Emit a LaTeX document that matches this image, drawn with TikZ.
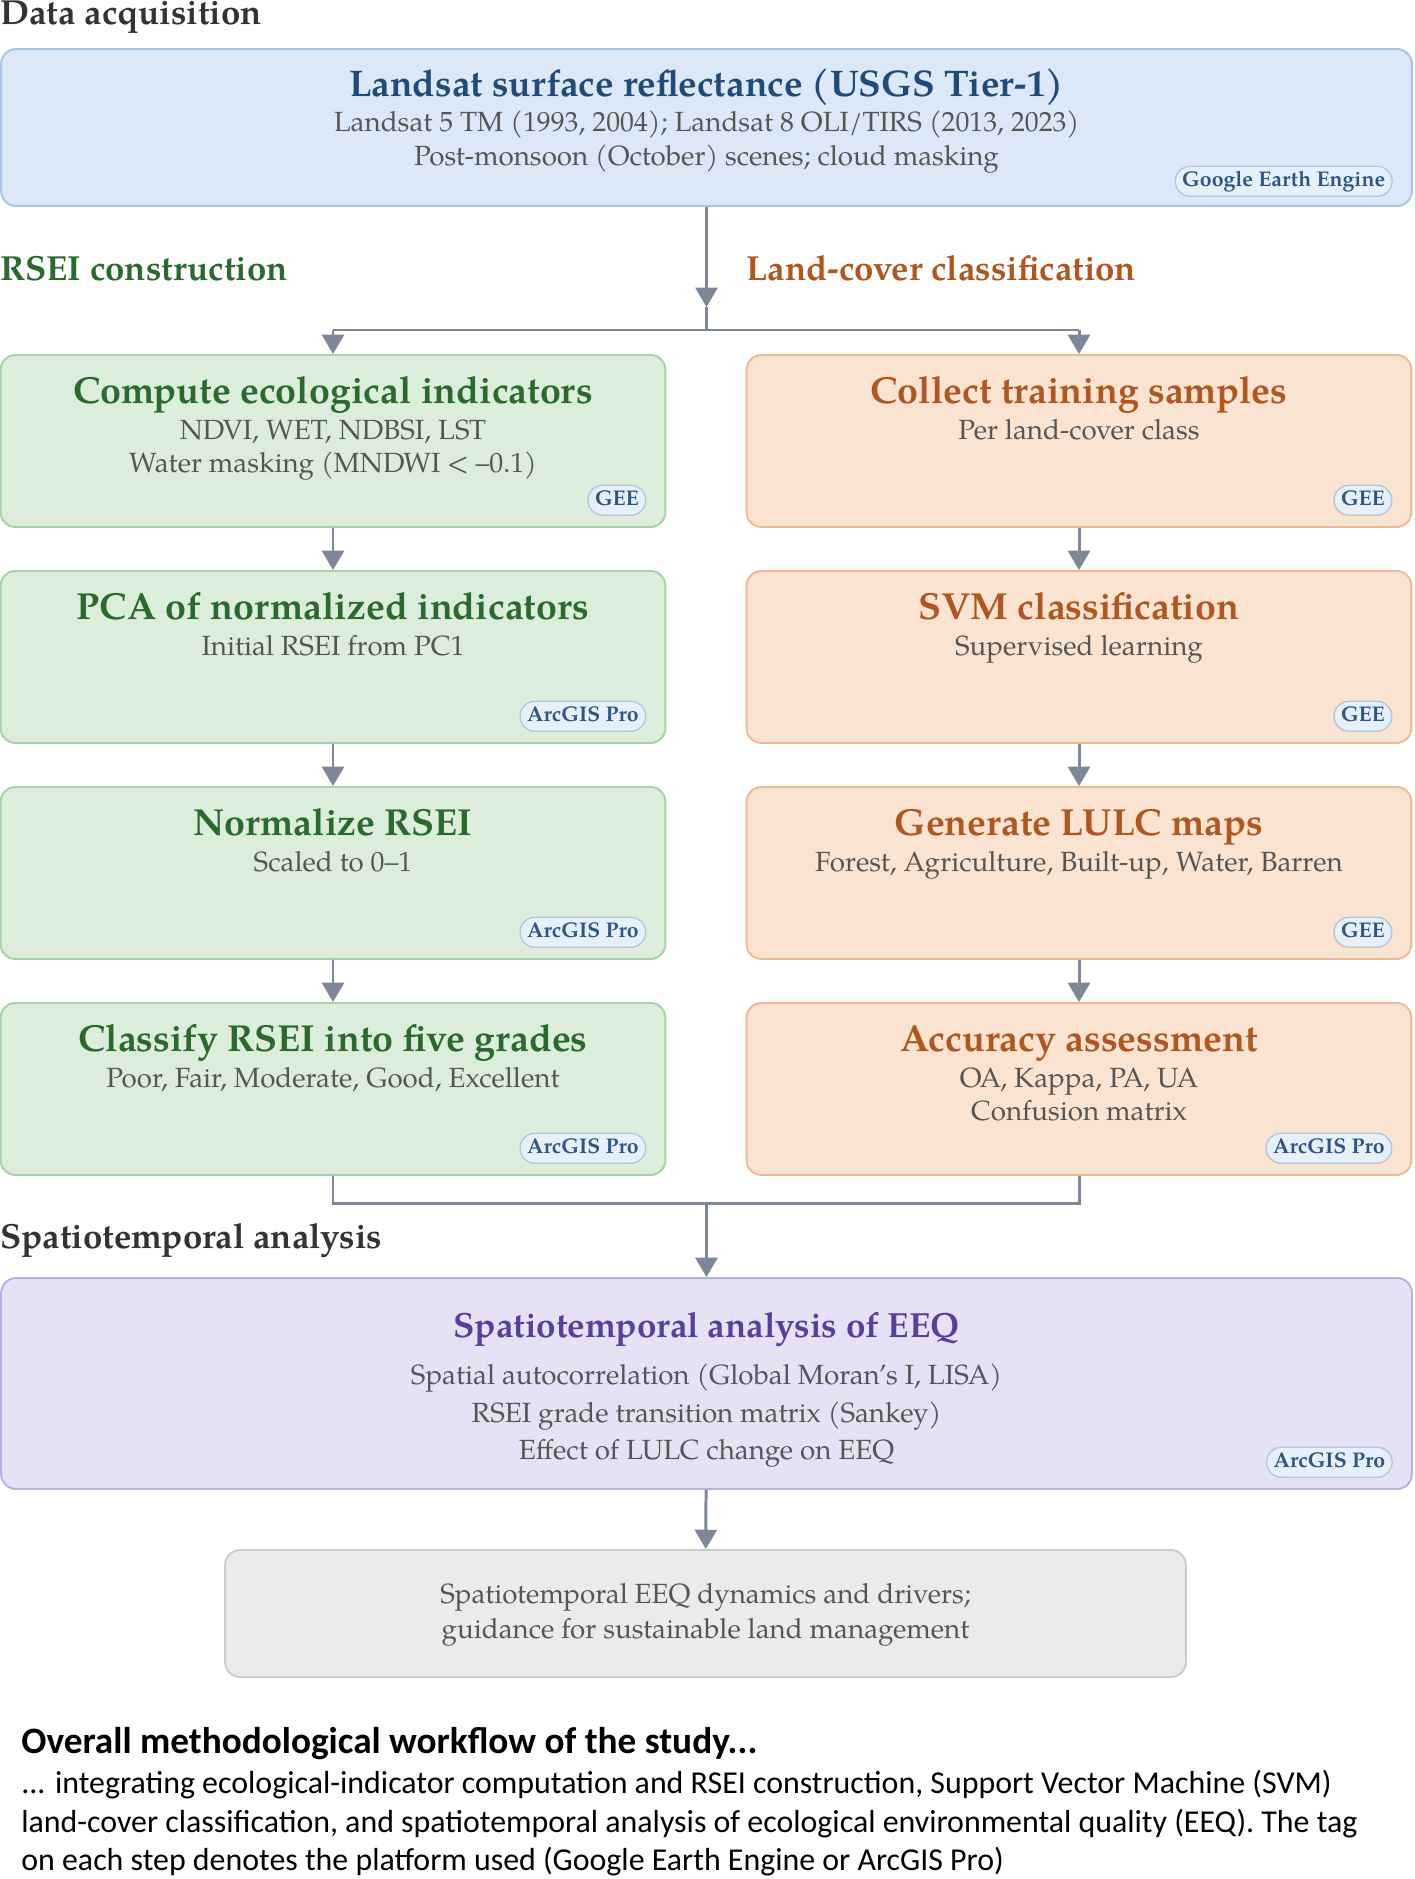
\documentclass[tikz,border=0pt]{standalone}
\usepackage{fontspec}
\setmainfont{TeX Gyre Pagella}
\newfontfamily\capfont{Carlito}
\usetikzlibrary{arrows.meta}
\definecolor{flowgray}{HTML}{7D8797}
\definecolor{acqfill}{HTML}{DCE8F7}
\definecolor{acqdraw}{HTML}{A9C3E5}
\definecolor{acqtext}{HTML}{1F4A7A}
\definecolor{rseifill}{HTML}{DCEEDB}
\definecolor{rseidraw}{HTML}{A6D3A6}
\definecolor{rseitext}{HTML}{2A6A2E}
\definecolor{lcfill}{HTML}{FBE3D1}
\definecolor{lcdraw}{HTML}{F0B993}
\definecolor{lctext}{HTML}{B0561E}
\definecolor{stfill}{HTML}{E5E2F5}
\definecolor{stdraw}{HTML}{B8B0DF}
\definecolor{sttext}{HTML}{5A3E9E}
\definecolor{outfill}{HTML}{EBEBEB}
\definecolor{outdraw}{HTML}{CCCCCC}
\definecolor{tagfill}{HTML}{E6F0FB}
\definecolor{tagdraw}{HTML}{B5C7DD}
\definecolor{tagtext}{HTML}{2F5584}
\definecolor{bodytext}{HTML}{555555}
\definecolor{headtext}{HTML}{333333}
\begin{document}
\begin{tikzpicture}[x=0.02cm, y=-0.02cm, every node/.style={inner sep=0pt},
  stage/.style={draw, line width=1.1pt, rounded corners=0.3cm, minimum width=13.3cm, minimum height=3.44cm},
  head/.style={anchor=base, font=\fontsize{21.4}{25}\selectfont\bfseries},
  detail/.style={anchor=base, text=bodytext, font=\fontsize{15.8}{19}\selectfont},
  tag/.style={anchor=south east, draw=tagdraw, fill=tagfill, text=tagtext, line width=0.8pt,
    rounded corners=0.3cm, minimum height=0.6cm, inner xsep=0.14cm, text height=9pt, text depth=2.5pt,
    font=\fontsize{12.1}{14}\selectfont\bfseries, xshift=-0.4cm, yshift=0.24cm},
  section/.style={anchor=base west, font=\fontsize{19.8}{23}\selectfont\bfseries},
  flow/.style={draw=flowgray, line width=1.7pt, -{Triangle[width=12.5pt,length=11pt]}},
  link/.style={draw=flowgray, line width=1.7pt},
  capline/.style={anchor=base west, text=black, font=\capfont\fontsize{18.15}{21}\selectfont}]
  \useasboundingbox (0,0) rectangle (1415,1879);

  \node[section, text=headtext] (acqlab) at (0,25) {Data acquisition};
  \node[stage, fill=acqfill, draw=acqdraw, minimum width=28.22cm, minimum height=3.14cm] (src) at (706.5,127.5) {};
  \node[head, text=acqtext, font=\fontsize{21.1}{25}\selectfont\bfseries] (srct) at (706.5,96) {Landsat surface reflectance (USGS Tier-1)};
  \node[detail] (srca) at (706.5,132) {Landsat 5 TM (1993, 2004); Landsat 8 OLI/TIRS (2013, 2023)};
  \node[detail] (srcb) at (706.5,165) {Post-monsoon (October) scenes; cloud masking};
  \node[tag, yshift=-0.04cm] (srctag) at (src.south east) {Google Earth Engine};

  \node[section, text=rseitext] (rseilab) at (0,280) {RSEI construction};
  \node[section, text=lctext] (lclab) at (746,280) {Land-cover classification};

  \node[stage, fill=rseifill, draw=rseidraw] (b1) at (333,441) {};
  \node[head, text=rseitext] (b1t) at (333,403) {Compute ecological indicators};
  \node[detail] (b1a) at (333,439) {NDVI, WET, NDBSI, LST};
  \node[detail] (b1b) at (333,472) {Water masking (MNDWI < –0.1)};
  \node[tag] (b1tag) at (b1.south east) {GEE};

  \node[stage, fill=rseifill, draw=rseidraw] (b2) at (333,657) {};
  \node[head, text=rseitext] (b2t) at (333,619) {PCA of normalized indicators};
  \node[detail] (b2a) at (333,655) {Initial RSEI from PC1};
  \node[tag] (b2tag) at (b2.south east) {ArcGIS Pro};

  \node[stage, fill=rseifill, draw=rseidraw] (b3) at (333,873) {};
  \node[head, text=rseitext] (b3t) at (333,835) {Normalize RSEI};
  \node[detail] (b3a) at (333,871) {Scaled to 0–1};
  \node[tag] (b3tag) at (b3.south east) {ArcGIS Pro};

  \node[stage, fill=rseifill, draw=rseidraw] (b4) at (333,1089) {};
  \node[head, text=rseitext] (b4t) at (333,1051) {Classify RSEI into five grades};
  \node[detail] (b4a) at (333,1087) {Poor, Fair, Moderate, Good, Excellent};
  \node[tag] (b4tag) at (b4.south east) {ArcGIS Pro};

  \node[stage, fill=lcfill, draw=lcdraw] (c1) at (1079,441) {};
  \node[head, text=lctext] (c1t) at (1079,403) {Collect training samples};
  \node[detail] (c1a) at (1079,439) {Per land-cover class};
  \node[tag] (c1tag) at (c1.south east) {GEE};

  \node[stage, fill=lcfill, draw=lcdraw] (c2) at (1079,657) {};
  \node[head, text=lctext] (c2t) at (1079,619) {SVM classification};
  \node[detail] (c2a) at (1079,655) {Supervised learning};
  \node[tag] (c2tag) at (c2.south east) {GEE};

  \node[stage, fill=lcfill, draw=lcdraw] (c3) at (1079,873) {};
  \node[head, text=lctext] (c3t) at (1079,835) {Generate LULC maps};
  \node[detail] (c3a) at (1079,871) {Forest, Agriculture, Built-up, Water, Barren};
  \node[tag] (c3tag) at (c3.south east) {GEE};

  \node[stage, fill=lcfill, draw=lcdraw] (c4) at (1079,1089) {};
  \node[head, text=lctext] (c4t) at (1079,1051) {Accuracy assessment};
  \node[detail] (c4a) at (1079,1087) {OA, Kappa, PA, UA};
  \node[detail] (c4b) at (1079,1120) {Confusion matrix};
  \node[tag] (c4tag) at (c4.south east) {ArcGIS Pro};

  \node[section, text=headtext] (stlab) at (0,1248) {Spatiotemporal analysis};
  \node[stage, fill=stfill, draw=stdraw, minimum width=28.22cm, minimum height=4.22cm] (st) at (706.5,1383.5) {};
  \node[head, text=sttext, font=\fontsize{19.9}{24}\selectfont\bfseries] (stt) at (706.5,1337) {Spatiotemporal analysis of EEQ};
  \node[detail] (sta) at (706.5,1384) {Spatial autocorrelation (Global Moran's I, LISA)};
  \node[detail] (stb) at (706.5,1422) {RSEI grade transition matrix (Sankey)};
  \node[detail] (stc) at (706.5,1459) {Effect of LULC change on EEQ};
  \node[tag] (sttag) at (st.south east) {ArcGIS Pro};

  \node[stage, fill=outfill, draw=outdraw, minimum width=19.22cm, minimum height=2.54cm] (out) at (705.5,1613.5) {};
  \node[detail] (outa) at (705.5,1603) {Spatiotemporal EEQ dynamics and drivers;};
  \node[detail] (outb) at (705.5,1638) {guidance for sustainable land management};

  \coordinate (forktip) at (706.5,307);
  \coordinate (fork) at (706.5,330);
  \coordinate (merge) at (706.5,1203);
  \draw[flow] (src.south) -- (forktip);
  \draw[link] (forktip) -- (fork);
  \draw[link] (b1.north |- fork) -- (c1.north |- fork);
  \draw[flow] (b1.north |- fork) -- (b1.north);
  \draw[flow] (c1.north |- fork) -- (c1.north);
  \draw[flow] (b1) -- (b2);
  \draw[flow] (b2) -- (b3);
  \draw[flow] (b3) -- (b4);
  \draw[flow] (c1) -- (c2);
  \draw[flow] (c2) -- (c3);
  \draw[flow] (c3) -- (c4);
  \draw[link] (b4.south) |- (merge) -| (c4.south);
  \draw[flow] (merge) -- (st.north);
  \draw[flow] (st) -- (out);

  \node[capline, font=\capfont\bfseries\fontsize{21.2}{25}\selectfont] (captitle) at (21,1753) {Overall methodological workflow of the study...};
  \node[capline] (cap1) at (21,1793) {... integrating ecological-indicator computation and RSEI construction, Support Vector Machine (SVM)};
  \node[capline] (cap2) at (21,1832) {land-cover classification, and spatiotemporal analysis of ecological environmental quality (EEQ). The tag};
  \node[capline] (cap3) at (21,1870) {on each step denotes the platform used (Google Earth Engine or ArcGIS Pro)};
\end{tikzpicture}
\end{document}
